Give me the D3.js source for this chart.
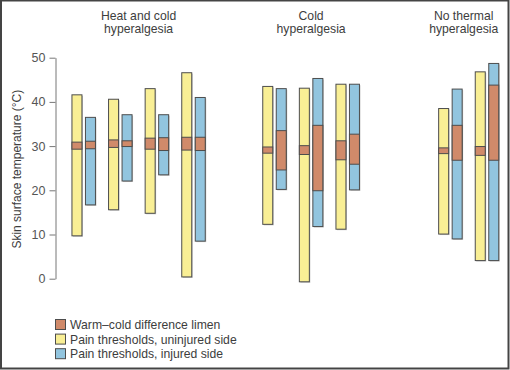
<!DOCTYPE html>
<html>
<head>
<meta charset="utf-8">
<script src="https://cdn.jsdelivr.net/npm/d3@7"></script>
<style>
  body { margin: 0; background: #fff; }
  svg { display: block; font-family: "Liberation Sans", Arial, sans-serif; }
</style>
</head>
<body>
<script>
// groups and their title lines
const groups = ["Heat and cold hyperalgesia", "Cold hyperalgesia", "No thermal hyperalgesia"];
const groupTitles = [["Heat and cold", "hyperalgesia"], ["Cold", "hyperalgesia"], ["No thermal", "hyperalgesia"]];

// which group each patient pair belongs to
const pairGroup = [0, 0, 0, 0, 1, 1, 1, 2, 2];

// pain thresholds, uninjured side (cold threshold .. heat threshold)
const uninjuredLow = [9.7, 15.6, 14.8, 0.4, 12.3, -0.7, 11.2, 10.1, 4.1];
const uninjuredHigh = [41.6, 40.6, 43.0, 46.6, 43.5, 43.1, 44.0, 38.5, 46.8];
// warm-cold difference limen, uninjured side
const uninjuredLimenLow = [29.3, 29.7, 29.3, 29.1, 28.4, 28.1, 26.9, 28.3, 27.9];
const uninjuredLimenHigh = [30.9, 31.4, 31.8, 32.0, 29.8, 30.1, 31.2, 29.6, 29.9];

// pain thresholds, injured side
const injuredLow = [16.7, 22.1, 23.5, 8.5, 20.2, 11.8, 20.1, 9.0, 4.1];
const injuredHigh = [36.5, 37.1, 37.1, 41.0, 43.0, 45.3, 44.0, 42.9, 48.7];
// warm-cold difference limen, injured side
const injuredLimenLow = [29.4, 29.9, 29.0, 29.0, 24.6, 19.9, 25.9, 26.8, 26.8];
const injuredLimenHigh = [31.1, 31.2, 31.9, 32.0, 33.5, 34.7, 32.7, 34.7, 43.8];

const yTicks = [0, 10, 20, 30, 40, 50];
const yLabel = "Skin surface temperature (°C)";
const legendLabels = ["Warm\u2013cold difference limen", "Pain thresholds, uninjured side", "Pain thresholds, injured side"];

const width = 510, height = 370;
const colors = { limen: "#d08a6a", uninjured: "#f9ef95", injured: "#92c5df" };
const strokeCol = "#4d4d4d";
const textCol = "#3d3d3d";

const svg = d3.select("body").append("svg")
  .attr("width", width)
  .attr("height", height);

// frame round the figure
svg.append("rect")
  .attr("x", 1).attr("y", 0.5)
  .attr("width", width - 2.5).attr("height", height - 2)
  .attr("fill", "none")
  .attr("stroke", "#444")
  .attr("stroke-width", 2);

const y = d3.scaleLinear().domain([0, 50]).range([278.7, 57.7]);

// group centres are not evenly spaced in the original figure
const groupX = d3.scaleOrdinal().domain(groups).range([138.6, 311.1, 468.7]);
const pairStep = 36.6;
const side = d3.scaleBand().domain(["uninjured", "injured"]).range([-11.75, 11.75]).paddingInner(0.26);

// build pair records
const pairs = pairGroup.map((g, i) => {
  const inGroup = pairGroup.filter(v => v === g);
  const idx = pairGroup.slice(0, i).filter(v => v === g).length;
  const cx = groupX(groups[g]) + (idx - (inGroup.length - 1) / 2) * pairStep;
  return { i, g, cx };
});

const bars = [];
pairs.forEach(p => {
  bars.push({ side: "uninjured", cx: p.cx, lo: uninjuredLow[p.i], hi: uninjuredHigh[p.i],
              llo: uninjuredLimenLow[p.i], lhi: uninjuredLimenHigh[p.i] });
  bars.push({ side: "injured", cx: p.cx, lo: injuredLow[p.i], hi: injuredHigh[p.i],
              llo: injuredLimenLow[p.i], lhi: injuredLimenHigh[p.i] });
});

const barX = d => d.cx + side(d.side);

const gBars = svg.append("g");

// faint shadow
gBars.selectAll("rect.shadow")
  .data(bars).join("rect")
  .attr("class", "shadow")
  .attr("x", d => barX(d) + 1)
  .attr("y", d => y(d.hi) + 1)
  .attr("width", side.bandwidth())
  .attr("height", d => y(d.lo) - y(d.hi))
  .attr("fill", "#c8c8c8");

// threshold range
gBars.selectAll("rect.range")
  .data(bars).join("rect")
  .attr("class", "range")
  .attr("x", d => barX(d))
  .attr("y", d => y(d.hi))
  .attr("width", side.bandwidth())
  .attr("height", d => y(d.lo) - y(d.hi))
  .attr("fill", d => colors[d.side])
  .attr("stroke", strokeCol)
  .attr("stroke-width", 1);

// difference limen band
gBars.selectAll("rect.limen")
  .data(bars).join("rect")
  .attr("class", "limen")
  .attr("x", d => barX(d))
  .attr("y", d => y(d.lhi))
  .attr("width", side.bandwidth())
  .attr("height", d => y(d.llo) - y(d.lhi))
  .attr("fill", colors.limen)
  .attr("stroke", strokeCol)
  .attr("stroke-width", 1);

// y axis
const yAxis = d3.axisLeft(y).tickValues(yTicks).tickSize(6).tickPadding(4).tickSizeOuter(0);
const gy = svg.append("g")
  .attr("transform", "translate(55.5,0)")
  .call(yAxis);
gy.select(".domain").attr("stroke", "#777");
gy.selectAll(".tick line").attr("stroke", "#777");
gy.selectAll(".tick text")
  .attr("fill", "#555")
  .style("font-size", "12.5px")
  .style("font-family", "'Liberation Sans', Arial, sans-serif");

// y label
svg.append("text")
  .attr("transform", `translate(21,${(y(0) + y(50)) / 2 + 1}) rotate(-90)`)
  .attr("text-anchor", "middle")
  .attr("fill", textCol)
  .style("font-size", "12px")
  .text(yLabel);

// group titles
groups.forEach((g, gi) => {
  const t = svg.append("text")
    .attr("text-anchor", "middle")
    .attr("fill", textCol)
    .style("font-size", "12.2px");
  groupTitles[gi].forEach((line, li) => {
    t.append("tspan")
      .attr("x", groupX(g) - (gi === 2 ? 5 : 0))
      .attr("y", 19.5 + li * 13.5)
      .text(line);
  });
});

// legend
const legendKeys = ["limen", "uninjured", "injured"];
const legend = svg.append("g").attr("transform", "translate(55.5,319.5)");
legendKeys.forEach((k, i) => {
  legend.append("rect")
    .attr("x", 0).attr("y", i * 14.6)
    .attr("width", 10).attr("height", 10)
    .attr("fill", colors[k])
    .attr("stroke", strokeCol)
    .attr("stroke-width", 1);
  legend.append("text")
    .attr("x", 14.5).attr("y", i * 14.6 + 9.5)
    .attr("fill", textCol)
    .style("font-size", "12.2px")
    .text(legendLabels[i]);
});
</script>
</body>
</html>
